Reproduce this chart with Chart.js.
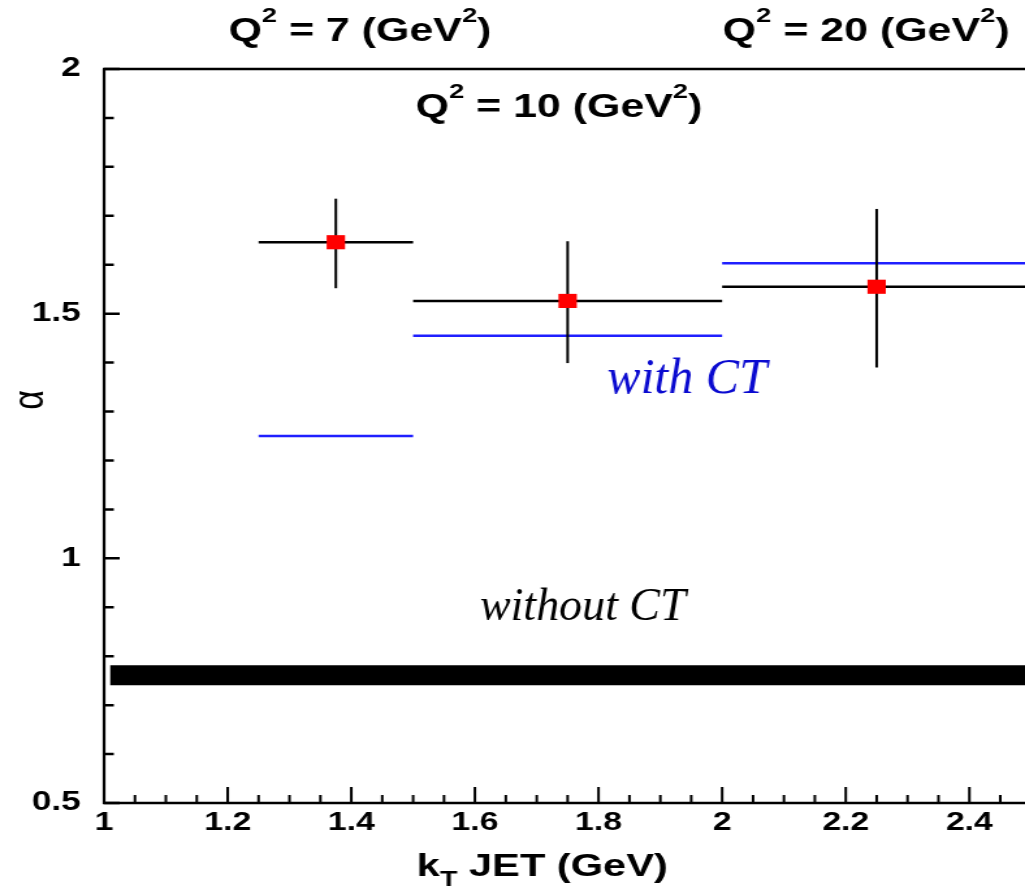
<!DOCTYPE html>
<html><head><meta charset="utf-8">
<script src="https://cdn.jsdelivr.net/npm/chart.js@4.4.1/dist/chart.umd.min.js"></script>
<style>
html,body{margin:0;padding:0;background:#fff;overflow:hidden;width:1025px;height:888px;}
#wrap{width:788px;height:888px;transform:scaleX(1.30076);transform-origin:0 0;}
canvas{display:block;}
</style></head><body>
<div id="wrap"><canvas id="c" width="788" height="888"></canvas></div>
<script>
// ---- data ----
const binLow = [1.25, 1.5, 2.0];
const binHigh = [1.5, 2.0, 2.5];
const binCenter = [1.375, 1.75, 2.25];
const alphaData = [1.646, 1.526, 1.555];
const alphaErrUp = [0.089, 0.122, 0.159];
const alphaErrDown = [0.094, 0.127, 0.165];
const withCT = [1.25, 1.455, 1.603];
const withoutCT = [0.761, 0.761];
const withoutCTRange = [1.01, 2.5];
const xTickValues = [1, 1.2, 1.4, 1.6, 1.8, 2, 2.2, 2.4];
const xTickLabels = ['1', '1.2', '1.4', '1.6', '1.8', '2', '2.2', '2.4'];
const yTickValues = [0.5, 1, 1.5, 2];
const yTickLabels = ['0.5', '1', '1.5', '2'];

const S = 1025 / 788;
const datasets = [];
datasets.push({
  label: 'data', order: 0,
  data: binCenter.map((x, i) => ({x: x, y: alphaData[i]})),
  pointStyle: 'rect', pointRadius: 10, pointBorderWidth: 0,
  backgroundColor: '#ff0000', borderColor: '#ff0000', showLine: false
});
binCenter.forEach((x, i) => {
  datasets.push({
    label: 'err' + i, order: 1, showLine: true, pointRadius: 0,
    borderColor: '#000', borderWidth: 2,
    data: [{x: x, y: alphaData[i] - alphaErrDown[i]}, {x: x, y: alphaData[i] + alphaErrUp[i]}]
  });
  datasets.push({
    label: 'bin' + i, order: 2, showLine: true, pointRadius: 0,
    borderColor: '#000', borderWidth: 2.5,
    data: [{x: binLow[i], y: alphaData[i]}, {x: binHigh[i], y: alphaData[i]}]
  });
  datasets.push({
    label: 'ct' + i, order: 3, showLine: true, pointRadius: 0,
    borderColor: '#1f1fff', borderWidth: 2.5,
    data: [{x: binLow[i], y: withCT[i]}, {x: binHigh[i], y: withCT[i]}]
  });
});
datasets.push({
  label: 'noct', order: 4, showLine: true, pointRadius: 0,
  borderColor: '#000', borderWidth: 20, borderCapStyle: 'butt',
  data: withoutCTRange.map((x, i) => ({x: x, y: withoutCT[i]}))
});

function drawRich(ctx, parts, x, y, align) {
  let w = 0;
  for (const p of parts) { ctx.font = p.f; w += ctx.measureText(p.t).width; }
  let cx = align === 'center' ? x - w / 2 : x;
  for (const p of parts) {
    ctx.font = p.f;
    ctx.fillText(p.t, cx, y + (p.dy || 0));
    cx += ctx.measureText(p.t).width;
  }
}

const decor = {
  id: 'decor',
  afterDatasetsDraw(chart) {
    const ctx = chart.ctx, xs = chart.scales.x, ys = chart.scales.y;
    const L = xs.getPixelForValue(1), R = chart.width;
    const T = ys.getPixelForValue(2), B = ys.getPixelForValue(0.5);
    ctx.save();
    ctx.strokeStyle = '#000';
    ctx.lineCap = 'butt';
    // frame
    ctx.lineWidth = 2.5;
    ctx.beginPath(); ctx.moveTo(L - 1, T); ctx.lineTo(R, T); ctx.moveTo(L - 1, B); ctx.lineTo(R, B); ctx.stroke();
    ctx.lineWidth = 2.2;
    ctx.beginPath(); ctx.moveTo(L, T); ctx.lineTo(L, B + 1); ctx.stroke();
    // inward ticks, y
    ctx.lineWidth = 2.5;
    ctx.beginPath();
    for (let k = 5; k <= 20; k++) {
      const v = k / 10, py = ys.getPixelForValue(v);
      const len = (k % 5 === 0) ? 12 : 7.5;
      ctx.moveTo(L, py); ctx.lineTo(L + len, py);
    }
    ctx.stroke();
    // inward ticks, x
    ctx.lineWidth = 2;
    ctx.beginPath();
    for (let k = 20; k <= 49; k++) {
      const v = k / 20, px = xs.getPixelForValue(v);
      const len = (k % 4 === 0) ? 16 : 8;
      ctx.moveTo(px, B); ctx.lineTo(px, B - len);
    }
    ctx.stroke();
    // texts
    ctx.fillStyle = '#000';
    ctx.textAlign = 'left';
    ctx.textBaseline = 'alphabetic';
    const B33 = 'bold 33px "Liberation Sans"', B21 = 'bold 21px "Liberation Sans"';
    const q = (n) => [{t: 'Q', f: B33}, {t: '2', f: B21, dy: -19}, {t: ' = ' + n + ' (GeV', f: B33}, {t: '2', f: B21, dy: -19}, {t: ')', f: B33}];
    drawRich(ctx, q('7'), xs.getPixelForValue(1.414), ys.getPixelForValue(2.057), 'center');
    drawRich(ctx, q('10'), xs.getPixelForValue(1.736), ys.getPixelForValue(1.902), 'center');
    drawRich(ctx, q('20'), xs.getPixelForValue(2.233), ys.getPixelForValue(2.057), 'center');
    const B32 = 'bold 32px "Liberation Sans"', B22 = 'bold 22px "Liberation Sans"';
    drawRich(ctx, [{t: 'k', f: B32}, {t: 'T', f: B22, dy: 10}, {t: ' JET (GeV)', f: B32}],
      xs.getPixelForValue(1.709), ys.getPixelForValue(0.351), 'center');
    // y title alpha
    ctx.save();
    ctx.translate(xs.getPixelForValue(0.882), ys.getPixelForValue(1.3235));
    ctx.rotate(-Math.PI / 2);
    ctx.font = '34px "Liberation Sans"';
    ctx.textAlign = 'center'; ctx.textBaseline = 'middle';
    ctx.fillText('\u03B1', 0, 0);
    ctx.restore();
    // italic annotations (not stretched)
    ctx.save();
    ctx.translate(xs.getPixelForValue(1.814), ys.getPixelForValue(1.338));
    ctx.scale(1 / S, 1);
    ctx.font = 'italic 50px "Liberation Serif"';
    ctx.fillStyle = '#0a0ad0';
    ctx.fillText('with CT', 0, 0);
    ctx.restore();
    ctx.save();
    ctx.translate(xs.getPixelForValue(1.608), ys.getPixelForValue(0.874));
    ctx.scale(1 / S, 1);
    ctx.font = 'italic 46px "Liberation Serif"';
    ctx.fillStyle = '#000';
    ctx.fillText('without CT', 0, 0);
    ctx.restore();
    ctx.restore();
  }
};

new Chart(document.getElementById('c'), {
  type: 'scatter',
  data: {datasets: datasets},
  options: {
    responsive: false, animation: false,
    layout: {autoPadding: false, padding: {top: 69, right: 0, left: 0, bottom: 0}},
    plugins: {legend: {display: false}, tooltip: {enabled: false}},
    scales: {
      x: {
        type: 'linear', min: 1, max: 2.49,
        grid: {display: false, drawTicks: false}, border: {display: false},
        afterBuildTicks: (s) => { s.ticks = xTickValues.map(v => ({value: v})); },
        afterFit: (s) => { s.height = 85; s.paddingLeft = 0; s.paddingRight = 0; },
        ticks: {
          padding: 4, color: '#000',
          font: {family: '"Liberation Sans"', size: 26, weight: 'bold'},
          maxRotation: 0, autoSkip: false,
          callback: (v) => { const i = xTickValues.findIndex(t => Math.abs(t - v) < 1e-6); return i >= 0 ? xTickLabels[i] : ''; }
        }
      },
      y: {
        type: 'linear', min: 0.5, max: 2,
        grid: {display: false, drawTicks: false}, border: {display: false},
        afterBuildTicks: (s) => { s.ticks = yTickValues.map(v => ({value: v})); },
        afterFit: (s) => { s.width = 80; s.paddingTop = 0; s.paddingBottom = 0; },
        ticks: {
          padding: 18, color: '#000',
          font: {family: '"Liberation Sans"', size: 27, weight: 'bold'},
          callback: (v) => { const i = yTickValues.findIndex(t => Math.abs(t - v) < 1e-6); return i >= 0 ? yTickLabels[i] : ''; }
        }
      }
    }
  },
  plugins: [decor]
});
</script>
</body></html>
